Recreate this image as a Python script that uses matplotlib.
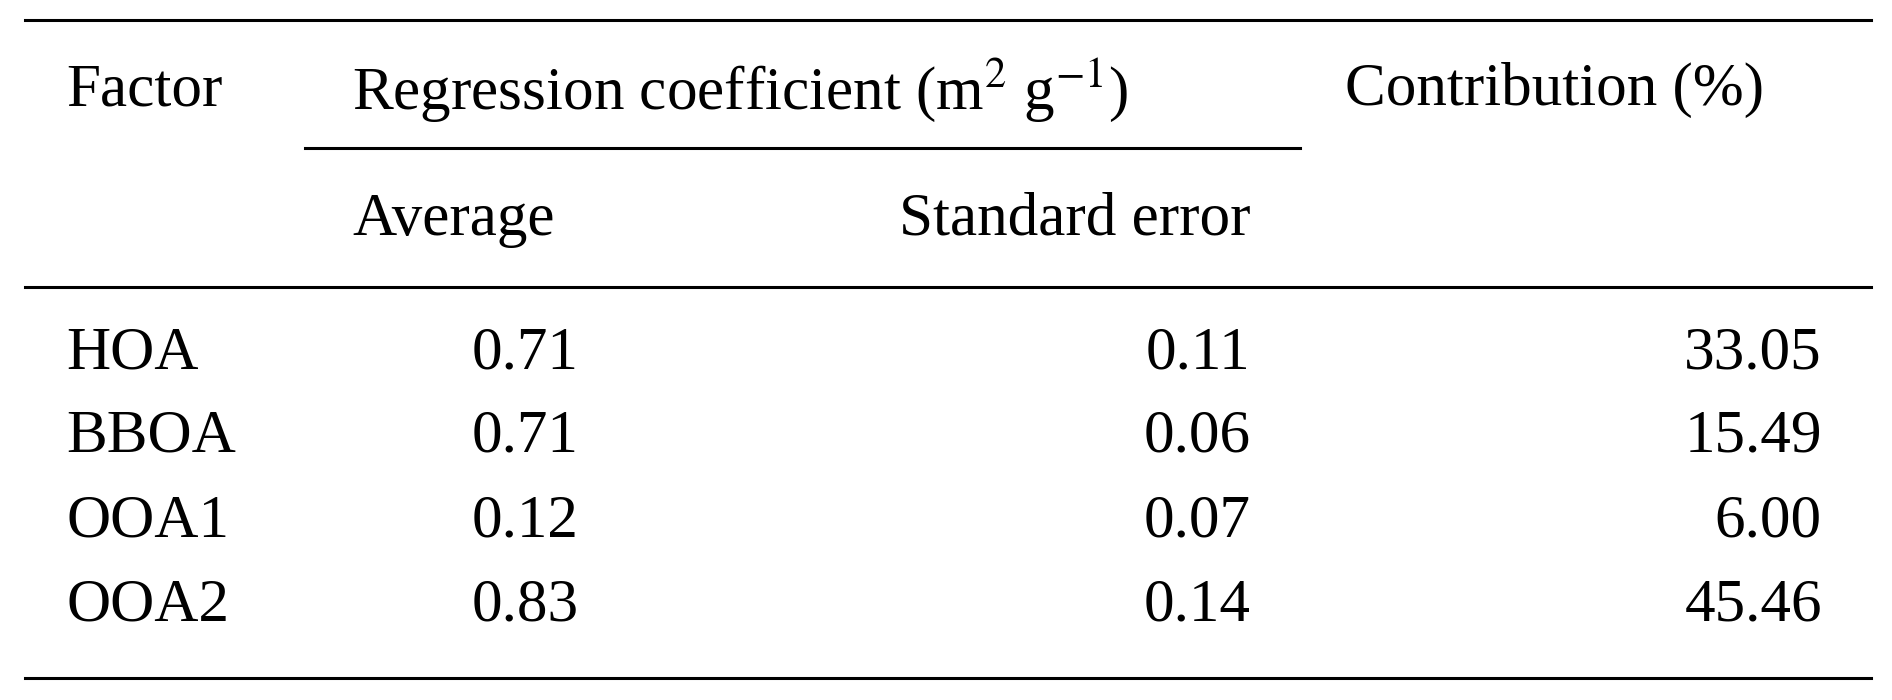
import matplotlib
matplotlib.use("Agg")
import matplotlib.pyplot as plt

plt.rcParams['font.family'] = ['Liberation Serif', 'DejaVu Serif']
plt.rcParams['mathtext.fontset'] = 'stix'

factors = ["HOA", "BBOA", "OOA1", "OOA2"]
average = ["0.71", "0.71", "0.12", "0.83"]
std_err = ["0.11", "0.06", "0.07", "0.14"]
contribution = ["33.05", "15.49", "6.00", "45.46"]

fig = plt.figure(figsize=(18.92, 7.0), dpi=100)
fs = 44

def hline(y, x0, x1):
    fig.add_artist(plt.Line2D([x0, x1], [1 - y, 1 - y], color='black', lw=2.2))

hline(0.029, 0.013, 0.989)
hline(0.212, 0.161, 0.687)
hline(0.410, 0.013, 0.989)
hline(0.969, 0.013, 0.989)

fig.text(0.035, 1 - 0.129, "Factor", fontsize=fs, va='center', ha='left')
fig.text(0.186, 1 - 0.129, r"Regression coefficient (m$^2$ g$^{-1}$)", fontsize=fs, va='center', ha='left')
fig.text(0.711, 1 - 0.129, "Contribution (%)", fontsize=fs, va='center', ha='left')
fig.text(0.186, 1 - 0.314, "Average", fontsize=fs, va='center', ha='left')
fig.text(0.661, 1 - 0.314, "Standard error", fontsize=fs, va='center', ha='right')

rows_y = [0.505, 0.624, 0.745, 0.866]
for y, f, a, s, c in zip(rows_y, factors, average, std_err, contribution):
    fig.text(0.035, 1 - y, f, fontsize=fs, va='center', ha='left')
    fig.text(0.306, 1 - y, a, fontsize=fs, va='center', ha='right')
    fig.text(0.661, 1 - y, s, fontsize=fs, va='center', ha='right')
    fig.text(0.963, 1 - y, c, fontsize=fs, va='center', ha='right')

fig.savefig("out.png", dpi=100, facecolor='white')
